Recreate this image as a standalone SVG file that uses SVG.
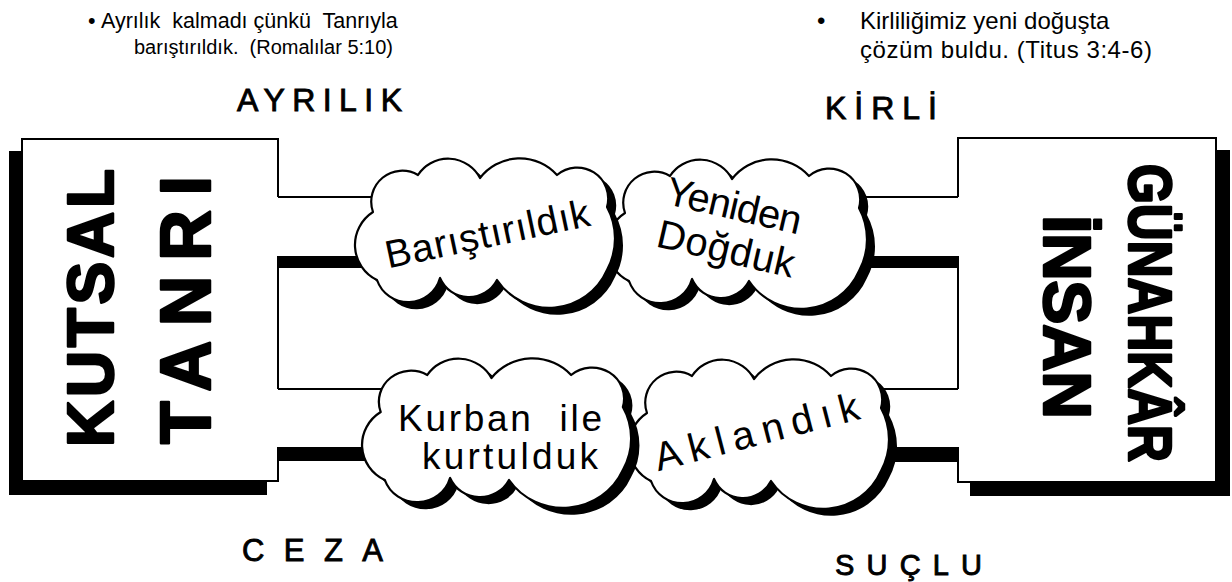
<svg xmlns="http://www.w3.org/2000/svg" width="1232" height="582" viewBox="0 0 1232 582">
<style>
.t{font-family:"Liberation Sans",Arial,sans-serif;fill:#000}
.lab{stroke:#000;stroke-width:0.9}
.big{font-weight:bold;stroke:#000;stroke-width:2.5;stroke-linejoin:round}
.thin{stroke:#000;stroke-width:2;fill:none}
.thick{fill:#000}
.cloud{fill:#fff;stroke:#000;stroke-width:2.2;stroke-linejoin:round}
.shadow{fill:#000}
</style>
<defs>
<path id="cl" d="M20,52 A31,31 0 0 1 65,15 A36,36 0 0 1 127,18 A50,50 0 0 1 204,15 A31,31 0 0 1 254,47 A66,66 0 0 1 254,110 A63,63 0 0 1 144,120 A31.5,31.5 0 0 1 87,118 A33,33 0 0 1 24,120 A39,39 0 0 1 20,52 Z"/>
<g id="cloudShape">
<use href="#cl" class="shadow" transform="translate(8,7)"/>
<use href="#cl" class="cloud"/>
</g>
</defs>
<rect width="1232" height="582" fill="#fff"/>

<g id="note-left" class="t">
<text x="88" y="28" font-size="21.5">•</text>
<text x="101" y="28" font-size="21.5" xml:space="preserve">Ayrılık  kalmadı çünkü  Tanrıyla</text>
<text x="134" y="54" font-size="20" xml:space="preserve">barıştırıldık.  (Romalılar 5:10)</text>
</g>
<g id="note-right" class="t" font-size="24">
<text x="817" y="29">•</text>
<text x="860" y="29">Kirliliğimiz yeni doğuşta</text>
<text x="860" y="58" textLength="292">çözüm buldu. (Titus 3:4-6)</text>
</g>

<g id="label-ayrilik"><text class="t lab" x="237" y="111" font-size="32" textLength="165">AYRILIK</text></g>
<g id="label-kirli"><text class="t lab" x="825" y="119" font-size="32" textLength="112">KİRLİ</text></g>
<g id="label-ceza"><text class="t lab" x="242" y="561" font-size="31" textLength="141">CEZA</text></g>
<g id="label-suclu"><text class="t lab" x="835" y="575" font-size="29" textLength="147">SUÇLU</text></g>

<g id="node-kutsal-tanri">
<rect x="9" y="151" width="258" height="344" fill="#000"/>
<rect x="22" y="139" width="256" height="342" fill="#fff"/>
<path class="thin" d="M278,197 V139 H22 V481 H278 V461 M278,268 V389"/>
<text class="t big" transform="translate(113,308) rotate(-90)" font-size="64" text-anchor="middle" textLength="278">KUTSAL</text>
<text class="t big" transform="translate(210,310) rotate(-90)" font-size="70" text-anchor="middle" textLength="268">TANRI</text>
</g>

<g id="node-gunahkar-insan">
<rect x="970" y="150" width="260" height="346" fill="#000"/>
<rect x="958" y="138" width="258" height="344" fill="#fff"/>
<path class="thin" d="M958,197 V138 H1216 V482 H958 V462 M958,268 V389"/>
<text class="t big" transform="translate(1129,313) rotate(90)" font-size="61" text-anchor="middle" textLength="298" lengthAdjust="spacingAndGlyphs">GÜNAHKÂR</text>
<text class="t big" transform="translate(1044,317) rotate(90)" font-size="66" text-anchor="middle" textLength="204">İNSAN</text>
</g>

<g id="connectors">
<line class="thin" x1="278" y1="197" x2="380" y2="197"/>
<rect class="thick" x="277" y="256" width="100" height="12"/>
<line class="thin" x1="278" y1="389" x2="390" y2="389"/>
<rect class="thick" x="277" y="447" width="100" height="14"/>
<line class="thin" x1="830" y1="197" x2="958" y2="197"/>
<rect class="thick" x="845" y="256" width="114" height="12"/>
<line class="thin" x1="850" y1="389" x2="958" y2="389"/>
<rect class="thick" x="860" y="447" width="99" height="15"/>
</g>

<g id="cloud-yeniden">
<use href="#cloudShape" transform="translate(605,161)"/>
<text class="t" transform="translate(731,219) rotate(13)" font-size="40" text-anchor="middle" textLength="138">Yeniden</text>
<text class="t" transform="translate(723,262) rotate(13)" font-size="40" text-anchor="middle" textLength="140">Doğduk</text>
</g>
<g id="cloud-barist">
<use href="#cloudShape" transform="translate(353,160)"/>
<text class="t" transform="translate(490,247) rotate(-12)" font-size="39" text-anchor="middle" textLength="208">Barıştırıldık</text>
</g>
<g id="cloud-aklandik">
<use href="#cloudShape" transform="translate(627,361)"/>
<text class="t" transform="translate(760,445) rotate(-14.5)" font-size="40" text-anchor="middle" textLength="210">Aklandık</text>
</g>
<g id="cloud-kurban">
<use href="#cloudShape" transform="translate(360,360) scale(1.035,1)"/>
<text class="t" x="500" y="431" font-size="37" text-anchor="middle" textLength="204" xml:space="preserve">Kurban  ile</text>
<text class="t" x="510" y="469" font-size="37" text-anchor="middle" textLength="176">kurtulduk</text>
</g>
</svg>
